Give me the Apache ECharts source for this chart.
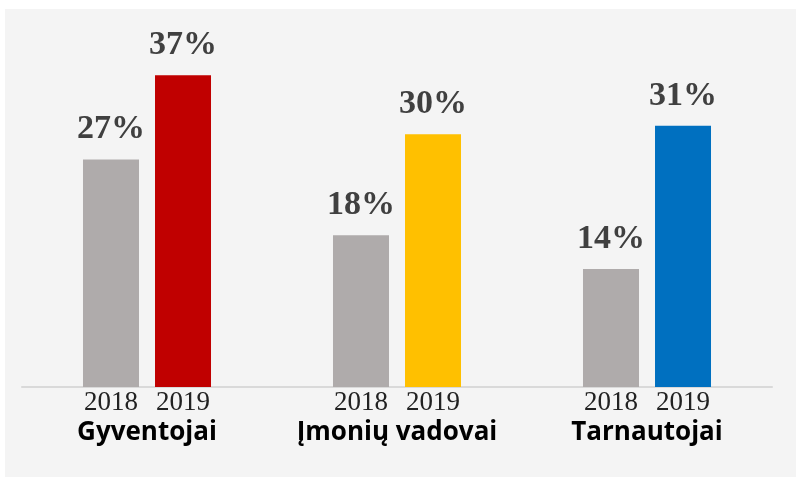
<!DOCTYPE html>
<html>
<head>
<meta charset="utf-8">
<script src="https://cdn.jsdelivr.net/npm/echarts@6/dist/echarts.min.js"></script>
<style>
html,body{margin:0;padding:0;background:#fff;}
#c{width:796px;height:477px;}
</style>
</head>
<body>
<div id="c"></div>
<script>
const categories = ['Gyventojai', 'Įmonių vadovai', 'Tarnautojai'];
const yearLabels = ['2018', '2019'];
const values2018 = [27, 18, 14];
const values2019 = [37, 30, 31];
const colors2019 = ['#c00000', '#ffc000', '#0070c0'];
const color2018 = '#afabab';

const chart = echarts.init(document.getElementById('c'));
const pctLabel = {
  show: true,
  position: 'top',
  distance: 13,
  formatter: '{c}%',
  fontFamily: 'Liberation Serif',
  fontWeight: 'bold',
  fontSize: 34,
  color: '#404040'
};
chart.setOption({
  backgroundColor: '#ffffff',
  animation: false,
  graphic: [{
    type: 'rect', z: -10, silent: true,
    shape: { x: 5, y: 9, width: 791, height: 468 },
    style: { fill: '#f4f4f4' }
  }],
  grid: { left: 22, right: 24, top: 50, bottom: 90 },
  xAxis: {
    type: 'category',
    data: categories,
    axisTick: { show: false },
    axisLine: { lineStyle: { color: '#d9d9d9', width: 2 } },
    axisLabel: {
      interval: 0,
      margin: 1,
      formatter: function (v) {
        return '{y|' + yearLabels[0] + '}{y|' + yearLabels[1] + '}\n{n|' + v + '}';
      },
      rich: {
        y: { fontFamily: 'Liberation Serif', fontSize: 27, color: '#222', width: 72, align: 'center', lineHeight: 30 },
        n: { fontFamily: 'Open Sans', fontWeight: 'bold', fontSize: 26, color: '#000', lineHeight: 30, align: 'center' }
      }
    }
  },
  yAxis: { type: 'value', min: 0, max: 40, show: false, splitLine: { show: false } },
  series: [
    {
      name: yearLabels[0], type: 'bar', data: values2018, barWidth: 56, barGap: '28.6%',
      itemStyle: { color: color2018 }, label: pctLabel
    },
    {
      name: yearLabels[1], type: 'bar', barWidth: 56, barGap: '28.6%',
      data: values2019.map((v, i) => ({ value: v, itemStyle: { color: colors2019[i] } })),
      label: pctLabel
    }
  ]
});
</script>
</body>
</html>
